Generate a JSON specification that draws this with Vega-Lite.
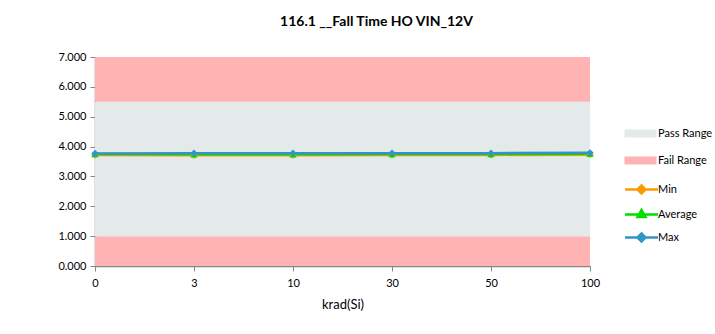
{
  "$schema": "https://vega.github.io/schema/vega-lite/v6.json",
  "width": 495,
  "height": 209,
  "autosize": {"type": "none"},
  "padding": {"left": 95, "top": 57, "right": 125, "bottom": 68},
  "background": "white",
  "config": {
    "font": "Lato",
    "view": {"stroke": null},
    "axis": {"labelFont": "Lato", "titleFont": "Lato", "labelColor": "#000", "titleColor": "#000", "domainColor": "#868686", "tickColor": "#868686", "domainWidth": 1.5, "grid": false, "labelFontSize": 11, "labelOverlap": false}
  },
  "title": {"text": "116.1 __Fall Time HO VIN_12V", "fontSize": 14, "fontWeight": "bold", "font": "Lato", "anchor": "middle", "dx": 34, "offset": 22, "color": "#000"},
  "datasets": {
    "bands": [
      {"range": "Fail Range", "lo": 0, "hi": 1},
      {"range": "Pass Range", "lo": 1, "hi": 5.5},
      {"range": "Fail Range", "lo": 5.5, "hi": 7}
    ],
    "series": [
      {"krad": "0", "series": "Min", "value": 3.72},
      {"krad": "3", "series": "Min", "value": 3.71},
      {"krad": "10", "series": "Min", "value": 3.71},
      {"krad": "30", "series": "Min", "value": 3.72},
      {"krad": "50", "series": "Min", "value": 3.72},
      {"krad": "100", "series": "Min", "value": 3.73},
      {"krad": "0", "series": "Average", "value": 3.75},
      {"krad": "3", "series": "Average", "value": 3.74},
      {"krad": "10", "series": "Average", "value": 3.74},
      {"krad": "30", "series": "Average", "value": 3.75},
      {"krad": "50", "series": "Average", "value": 3.75},
      {"krad": "100", "series": "Average", "value": 3.76},
      {"krad": "0", "series": "Max", "value": 3.77},
      {"krad": "3", "series": "Max", "value": 3.78},
      {"krad": "10", "series": "Max", "value": 3.78},
      {"krad": "30", "series": "Max", "value": 3.78},
      {"krad": "50", "series": "Max", "value": 3.78},
      {"krad": "100", "series": "Max", "value": 3.79}
    ]
  },
  "encoding": {
    "y": {"type": "quantitative", "scale": {"domain": [0, 7]},
          "axis": {"values": [0,1,2,3,4,5,6,7], "format": ".3f", "title": null, "tickSize": 5, "labelPadding": 4}}
  },
  "layer": [
    {
      "data": {"name": "bands"},
      "mark": {"type": "rect"},
      "encoding": {
        "y": {"field": "lo", "type": "quantitative", "scale": {"domain": [0, 7]},
              "axis": {"values": [0,1,2,3,4,5,6,7], "format": ".3f", "title": null, "tickSize": 5, "labelPadding": 4}},
        "y2": {"field": "hi"},
        "fill": {"field": "range", "type": "nominal",
                 "scale": {"domain": ["Pass Range", "Fail Range"], "range": ["#e4eaea", "#ffb3b3"]},
                 "legend": {"title": null, "orient": "none", "legendX": 540, "legendY": 71,
                            "symbolType": "M-3.2,-0.8H3.2V0.8H-3.2Z", "symbolSize": 100, "symbolStrokeWidth": 0,
                            "labelFont": "Lato", "labelFontSize": 11, "labelColor": "#000", "labelOffset": 12, "rowPadding": 15}}
      }
    },
    {
      "data": {"name": "series"},
      "mark": {"type": "line"},
      "encoding": {
        "x": {"field": "krad", "type": "ordinal", "sort": ["0","3","10","30","50","100"],
              "scale": {"type": "point", "padding": 0},
              "axis": {"title": "krad(Si)", "titleFontSize": 13, "titleFontWeight": "normal", "labelAngle": 0, "tickSize": 5, "labelPadding": 6, "titlePadding": 10}},
        "y": {"field": "value", "type": "quantitative", "scale": {"domain": [0, 7]},
              "axis": {"values": [0,1,2,3,4,5,6,7], "format": ".3f", "title": null, "tickSize": 5, "labelPadding": 4}},
        "stroke": {"field": "series", "type": "nominal",
                   "scale": {"domain": ["Min", "Average", "Max"], "range": ["#ff9900", "#00dd00", "#2e96cc"]},
                   "legend": {"title": null, "orient": "none", "legendX": 540, "legendY": 126,
                              "symbolType": "M-3.3,0H3.3M0,-0.8L0.8,0L0,0.8L-0.8,0Z",
                              "symbolSize": 100, "symbolStrokeWidth": 2.5,
                              "labelFont": "Lato", "labelFontSize": 11, "labelColor": "#000", "labelOffset": 10, "rowPadding": 6,
                              "encode": {"symbols": {"update": {
                                "shape": {"signal": "datum.value === 'Average' ? 'M-3.3,0H3.3M0,-0.9L0.8,0.5L-0.8,0.5Z' : 'M-3.3,0H3.3M0,-0.8L0.8,0L0,0.8L-0.8,0Z'"},
                                "fill": {"signal": "scale('stroke', datum.value)"},
                                "stroke": {"signal": "scale('stroke', datum.value)"},
                                "strokeWidth": {"value": 2.5},
                                "opacity": {"value": 1}
                              }}}}},
        "strokeWidth": {"field": "series", "type": "nominal",
                        "scale": {"domain": ["Min", "Average", "Max"], "range": [2.5, 2.5, 3.5]}, "legend": null}
      }
    },
    {
      "data": {"name": "series"},
      "transform": [{"filter": "datum.series === 'Min'"}],
      "mark": {"type": "point", "filled": true, "size": 55, "opacity": 1, "shape": "diamond", "color": "#ff9900"},
      "encoding": {
        "x": {"field": "krad", "type": "ordinal", "sort": ["0","3","10","30","50","100"]},
        "y": {"field": "value", "type": "quantitative"}
      }
    },
    {
      "data": {"name": "series"},
      "transform": [{"filter": "datum.series === 'Average'"}],
      "mark": {"type": "point", "filled": true, "size": 55, "opacity": 1, "shape": "triangle-up", "color": "#00dd00"},
      "encoding": {
        "x": {"field": "krad", "type": "ordinal", "sort": ["0","3","10","30","50","100"]},
        "y": {"field": "value", "type": "quantitative"}
      }
    },
    {
      "data": {"name": "series"},
      "transform": [{"filter": "datum.series === 'Max'"}],
      "mark": {"type": "point", "filled": true, "size": 55, "opacity": 1, "shape": "diamond", "color": "#2e96cc"},
      "encoding": {
        "x": {"field": "krad", "type": "ordinal", "sort": ["0","3","10","30","50","100"]},
        "y": {"field": "value", "type": "quantitative"}
      }
    }
  ]
}
